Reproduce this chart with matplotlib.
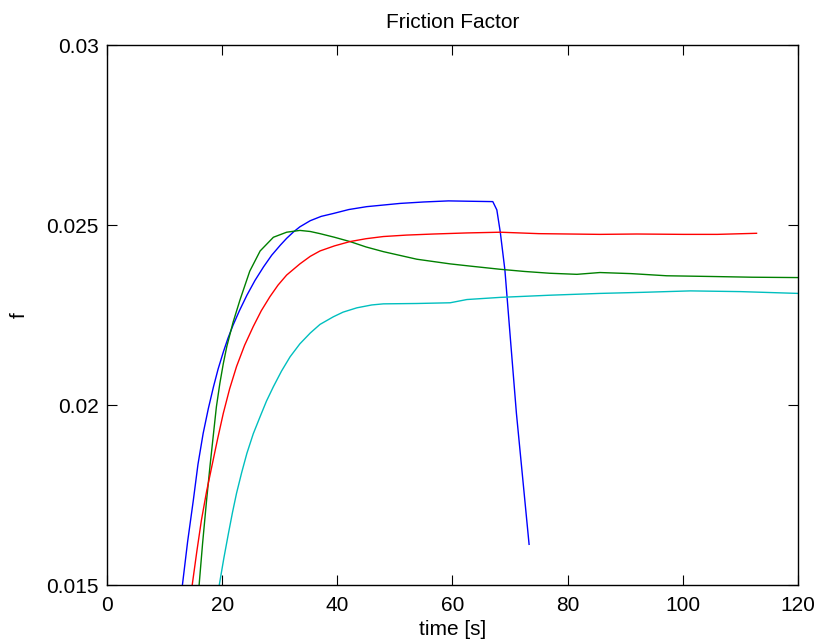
import numpy as np
import matplotlib.pyplot as plt

plt.rcParams['font.family'] = ['Liberation Sans', 'DejaVu Sans']

# values
t_blue = [13.1, 14.0, 15.0, 15.8, 16.7, 17.6, 18.5, 19.3, 20.2, 21.0, 21.9, 23.0, 24.3, 25.7, 27.2, 28.6, 30.1, 31.2, 32.4, 33.5, 35.3, 37.2, 39.3, 42.0, 45.1, 50.9, 55.0, 59.3, 63.0, 67.0, 67.7, 68.3, 69.1, 70.1, 71.1, 72.2, 73.3]
f_blue = [0.0150, 0.0162, 0.01736, 0.01835, 0.01921, 0.01990, 0.02051, 0.02100, 0.02147, 0.02185, 0.02222, 0.02262, 0.02305, 0.02346, 0.02384, 0.02416, 0.02444, 0.02463, 0.02481, 0.02495, 0.02512, 0.02524, 0.02532, 0.02543, 0.02551, 0.02560, 0.02564, 0.02567, 0.02566, 0.02565, 0.02542, 0.02480, 0.02375, 0.02175, 0.01977, 0.01795, 0.01613]

t_green = [16.0, 16.6, 17.3, 17.9, 18.5, 19.0, 19.6, 20.2, 20.8, 21.9, 23.1, 24.8, 26.6, 28.9, 31.2, 33.5, 35.3, 37.0, 39.5, 42.2, 45.0, 48.0, 53.8, 59.6, 63.0, 68.3, 72.5, 76.9, 81.6, 85.6, 91.0, 97.2, 105.0, 112.0, 120.0]
f_green = [0.0150, 0.01615, 0.01736, 0.01832, 0.01921, 0.01995, 0.02060, 0.02115, 0.02162, 0.02230, 0.02292, 0.02372, 0.02428, 0.02466, 0.02480, 0.02485, 0.02482, 0.02476, 0.02466, 0.02454, 0.02439, 0.02426, 0.02405, 0.02392, 0.02386, 0.02377, 0.02371, 0.02366, 0.02363, 0.02368, 0.02365, 0.02359, 0.02357, 0.02355, 0.02354]

t_red = [14.8, 15.6, 16.4, 17.3, 18.2, 19.2, 20.2, 21.3, 22.5, 23.9, 25.4, 26.8, 28.3, 29.7, 31.2, 33.5, 35.3, 37.0, 39.5, 42.2, 45.0, 48.0, 52.0, 56.7, 62.5, 68.3, 75.0, 85.6, 92.0, 100.1, 106.0, 112.8]
f_red = [0.0150, 0.01593, 0.01680, 0.01760, 0.01829, 0.01905, 0.01977, 0.02045, 0.02107, 0.02166, 0.02218, 0.02262, 0.02301, 0.02333, 0.02361, 0.02392, 0.02413, 0.02428, 0.02442, 0.02454, 0.02462, 0.02468, 0.02472, 0.02475, 0.02478, 0.02480, 0.02476, 0.02474, 0.02475, 0.02474, 0.02474, 0.02477]

t_cyan = [19.5, 20.3, 21.1, 21.8, 22.5, 23.4, 24.3, 25.4, 26.6, 27.7, 28.9, 30.3, 31.8, 33.5, 35.3, 37.0, 39.3, 41.0, 43.4, 46.0, 48.0, 53.8, 59.6, 62.5, 68.3, 76.9, 85.6, 93.0, 101.3, 110.0, 120.0]
f_cyan = [0.0150, 0.01575, 0.01644, 0.01702, 0.01755, 0.01813, 0.01866, 0.01920, 0.01968, 0.02011, 0.02051, 0.02094, 0.02134, 0.02170, 0.02200, 0.02224, 0.02245, 0.02258, 0.02270, 0.02278, 0.02281, 0.02282, 0.02284, 0.02293, 0.02299, 0.02305, 0.02310, 0.02313, 0.02317, 0.02315, 0.02310]

fig = plt.figure(figsize=(8.21, 6.44), dpi=100)
ax = fig.add_axes([0.1303, 0.0916, 0.8417, 0.8385])

ax.plot(t_blue, f_blue, color=(0, 0, 1), linewidth=1.0)
ax.plot(t_green, f_green, color=(0, 0.5, 0), linewidth=1.0)
ax.plot(t_red, f_red, color=(1, 0, 0), linewidth=1.0)
ax.plot(t_cyan, f_cyan, color=(0, 0.75, 0.75), linewidth=1.0)

ax.set_xlim(0, 120)
ax.set_ylim(0.015, 0.03)
ax.set_xticks(np.arange(0, 121, 20))
ax.set_yticks([0.015, 0.02, 0.025, 0.03])
ax.set_yticklabels(['0.015', '0.02', '0.025', '0.03'])
ax.tick_params(direction='in', length=7, width=0.8, top=True, right=True, labelsize=15)
ax.tick_params(axis='x', pad=8)
ax.tick_params(axis='y', pad=6)
for s in ax.spines.values():
    s.set_linewidth(1.0)

ax.set_title('Friction Factor', fontsize=15, pad=12)
ax.set_xlabel('time [s]', fontsize=15)
ax.set_ylabel('f', fontsize=15)
ax.xaxis.set_label_coords(0.5, -0.065)
ax.yaxis.set_label_coords(-0.113, 0.5)

fig.savefig('out.png', dpi=100)
